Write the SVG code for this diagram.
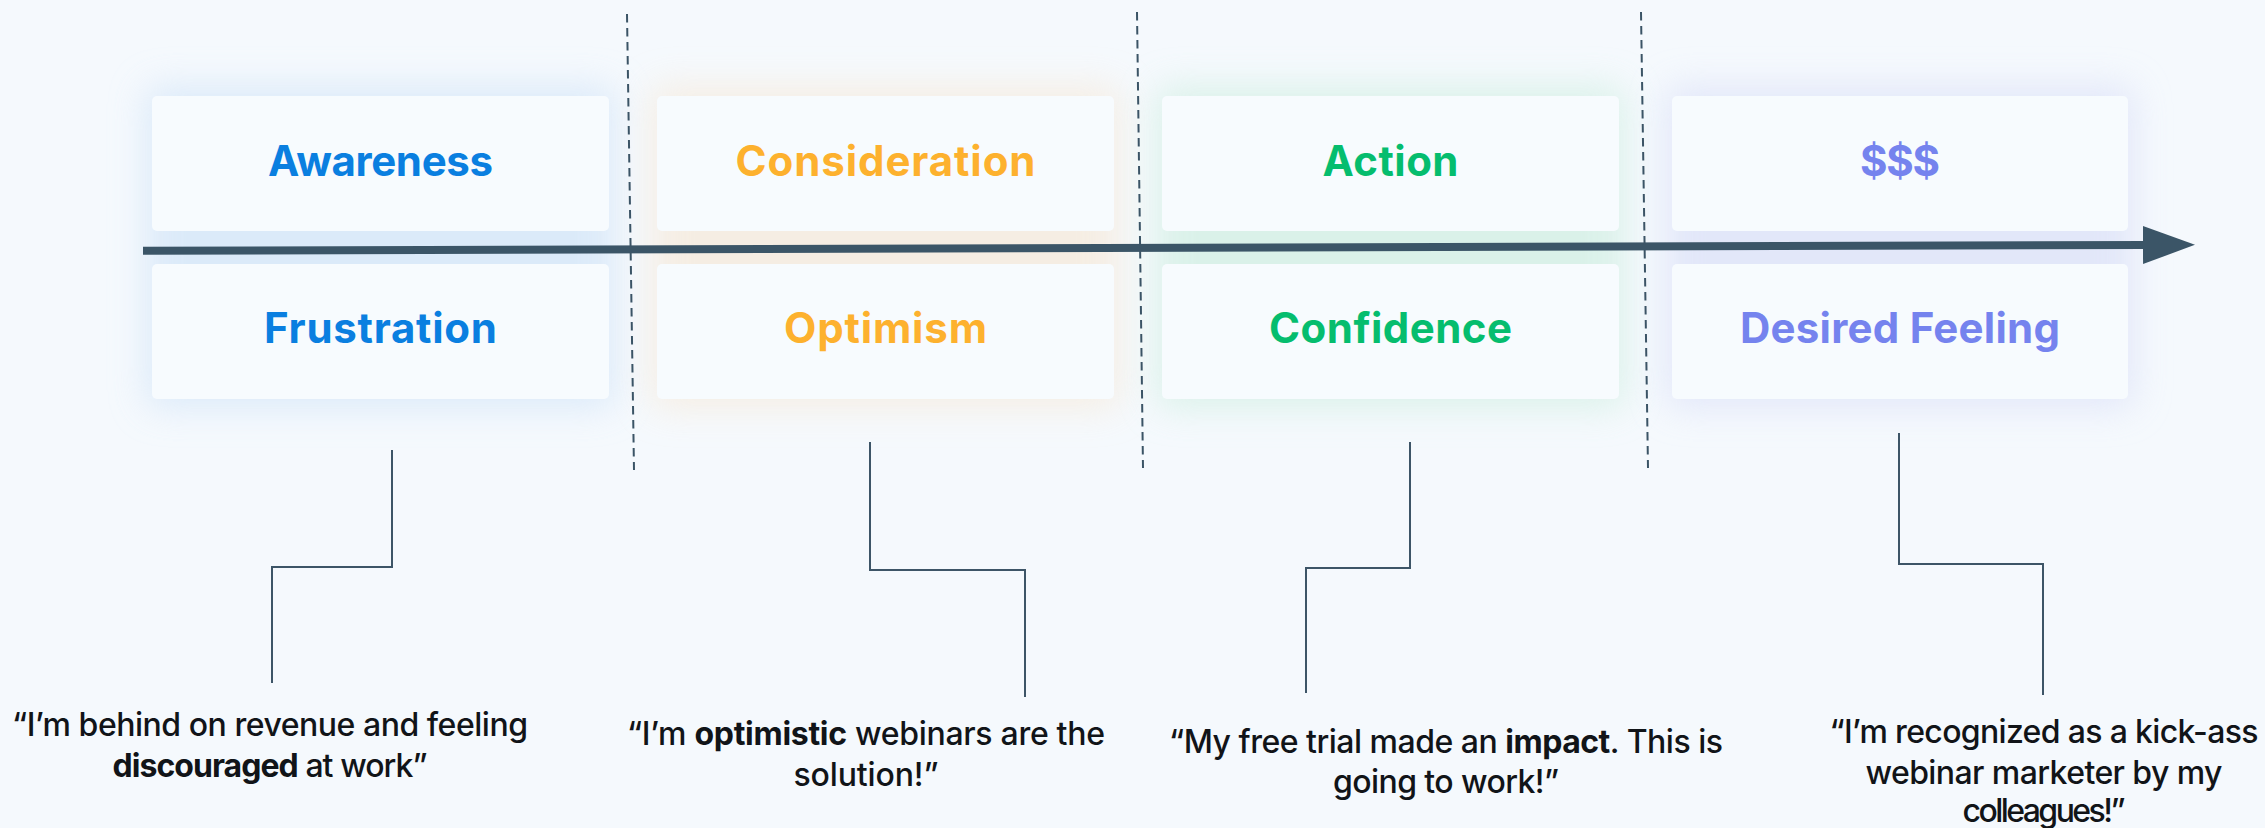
<svg xmlns="http://www.w3.org/2000/svg" width="2265" height="828" viewBox="0 0 2265 828">
  <defs>
    <filter id="glow" x="-25%" y="-50%" width="150%" height="200%">
      <feGaussianBlur stdDeviation="18"/>
    </filter>
    <marker id="head" viewBox="0 0 52 38" markerWidth="52" markerHeight="38" refX="2" refY="19" markerUnits="userSpaceOnUse" orient="auto">
      <path d="M0,0 L52,19 L0,38 Z" fill="#3b5567"/>
    </marker>
    <style>
      .card { fill: #f7fbfe; }
      .halo { filter: url(#glow); opacity: 0.75; }
      .head { font-family: Inter, "Noto Sans", "Liberation Sans", sans-serif; font-weight: 700; font-size: 42px; text-anchor: middle; }
      .quote { font-family: Inter, "Noto Sans", "Liberation Sans", sans-serif; font-weight: 500; font-size: 32px; fill: #111418; text-anchor: middle; }
      .quote .b { font-weight: 700; }
      .blue { fill: #0a7fe0; }
      .orange { fill: #fdb12e; }
      .green { fill: #05bd6e; }
      .purple { fill: #7583ee; }
      .divider { stroke: #3b5466; stroke-width: 2; stroke-dasharray: 8.5 5.5; fill: none; }
      .link { stroke: #3d5567; stroke-width: 2; fill: none; }
    </style>
  </defs>

  <rect width="2265" height="828" fill="#f5f9fd"/>

  <!-- stage column: Awareness / Frustration -->
  <g id="stage-awareness">
    <rect class="halo" x="146" y="86" width="469" height="322" rx="12" fill="#d3e5f8"/>
    <rect class="card" x="152" y="96" width="457" height="135" rx="5"/>
    <rect class="card" x="152" y="264" width="457" height="135" rx="5"/>
    <text class="head blue" x="380.5" y="176" textLength="225">Awareness</text>
    <text class="head blue" x="380.5" y="343" textLength="233">Frustration</text>
  </g>

  <!-- stage column: Consideration / Optimism -->
  <g id="stage-consideration">
    <rect class="halo" x="651" y="86" width="469" height="322" rx="12" fill="#f6eadb"/>
    <rect class="card" x="657" y="96" width="457" height="135" rx="5"/>
    <rect class="card" x="657" y="264" width="457" height="135" rx="5"/>
    <text class="head orange" x="885.5" y="176" textLength="300">Consideration</text>
    <text class="head orange" x="885.5" y="343" textLength="203">Optimism</text>
  </g>

  <!-- stage column: Action / Confidence -->
  <g id="stage-action">
    <rect class="halo" x="1156" y="86" width="469" height="322" rx="12" fill="#d2efe3"/>
    <rect class="card" x="1162" y="96" width="457" height="135" rx="5"/>
    <rect class="card" x="1162" y="264" width="457" height="135" rx="5"/>
    <text class="head green" x="1390.5" y="176" textLength="136">Action</text>
    <text class="head green" x="1390.5" y="343" textLength="243">Confidence</text>
  </g>

  <!-- stage column: $$$ / Desired Feeling -->
  <g id="stage-revenue">
    <rect class="halo" x="1666" y="86" width="468" height="322" rx="12" fill="#dce1f8"/>
    <rect class="card" x="1672" y="96" width="456" height="135" rx="5"/>
    <rect class="card" x="1672" y="264" width="456" height="135" rx="5"/>
    <text class="head purple" x="1900" y="176" textLength="80">$$$</text>
    <text class="head purple" x="1900" y="343" textLength="320">Desired Feeling</text>
  </g>

  <!-- timeline, stage dividers and callout leaders -->
  <g id="connectors">
    <line x1="143" y1="250.7" x2="2145" y2="245" stroke="#3b5567" stroke-width="8" marker-end="url(#head)"/>
    <line class="divider" x1="627" y1="14" x2="634" y2="470"/>
    <line class="divider" x1="1137" y1="12" x2="1143" y2="468"/>
    <line class="divider" x1="1641" y1="12" x2="1648" y2="468"/>
    <polyline class="link" points="392,450 392,567 272,567 272,683"/>
    <polyline class="link" points="870,442 870,570 1025,570 1025,697"/>
    <polyline class="link" points="1410,442 1410,568 1306,568 1306,693"/>
    <polyline class="link" points="1899,433 1899,564 2043,564 2043,695"/>
  </g>

  <!-- quotes -->
  <g id="quote-frustration">
    <text class="quote" x="270" y="736" textLength="516">“I’m behind on revenue and feeling</text>
    <text class="quote" x="270" y="777" textLength="315"><tspan class="b">discouraged</tspan> at work”</text>
  </g>
  <g id="quote-optimism">
    <text class="quote" x="866" y="745" textLength="478">“I’m <tspan class="b">optimistic</tspan> webinars are the</text>
    <text class="quote" x="866" y="786" textLength="145">solution!”</text>
  </g>
  <g id="quote-confidence">
    <text class="quote" x="1446" y="753" textLength="554">“My free trial made an <tspan class="b">impact</tspan>. This is</text>
    <text class="quote" x="1446" y="793" textLength="226">going to work!”</text>
  </g>
  <g id="quote-desired">
    <text class="quote" x="2044" y="743" textLength="429">“I’m recognized as a kick-ass</text>
    <text class="quote" x="2044" y="784" textLength="357">webinar marketer by my</text>
    <text class="quote" x="2044" y="822" textLength="163">colleagues!”</text>
  </g>
</svg>
